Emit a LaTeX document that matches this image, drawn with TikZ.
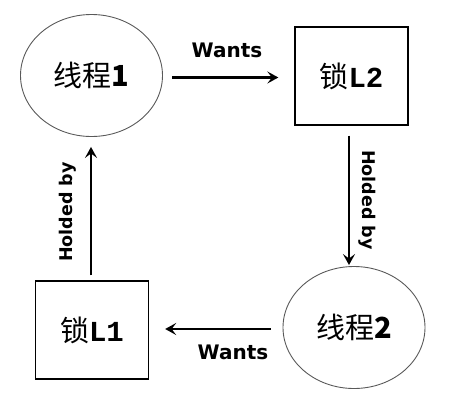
\documentclass[tikz,border=0pt]{standalone}
\usepackage{fontspec}
\newfontfamily\cjk{Noto Sans CJK SC}
\newfontfamily\lbl{DejaVu Sans}
\newfontfamily\monob{Liberation Mono}
\usetikzlibrary{arrows.meta,shapes.geometric,calc}
\begin{document}
\begin{tikzpicture}[x=1pt,y=-1pt,
  thread/.style={ellipse,draw=black!65,line width=0.9pt,minimum width=142pt,minimum height=122pt,inner sep=0pt,
    font=\cjk\fontsize{29}{29}\selectfont},
  lockbox/.style={rectangle,draw=black,line width=1.3pt,minimum width=113pt,minimum height=98pt,inner sep=0pt,
    font=\cjk\fontsize{29}{29}\selectfont},
  arr/.style={line width=2.5pt,-{Stealth[length=11pt,width=12pt,inset=4.5pt]}},
  lab/.style={font=\lbl\bfseries\fontsize{20}{20}\selectfont,inner sep=0pt,anchor=base},
  vlab/.style={font=\lbl\bfseries\fontsize{17.5}{17.5}\selectfont,inner sep=0pt,anchor=base}]
\useasboundingbox (0,0) rectangle (461,418);
\node[thread]  (e1) at (91.5,75.5) {线程\textbf{1}};
\node[lockbox] (l2) at (351.5,76) {锁{\monob\bfseries L2}};
\node[lockbox] (l1) at (92,330) {锁{\monob\bfseries L1}};
\node[thread]  (e2) at (354,327.5) {线程\textbf{2}};
\draw[arr] ($(e1.east)+(9.5,2)$) -- ($(l2.west)+(-16,1.5)$);
\draw[arr] ($(l2.south)+(-2.5,10)$) -- ($(l2.south |- e2.north)+(-2.5,-1)$);
\draw[arr] ($(e2.west)+(-12,1.5)$) -- ($(l1.east)+(16,-1)$);
\draw[arr] ($(l1.north)+(-1,-5)$) -- ($(e1.south)+(-0.5,10)$);
\node[lab] (w1) at (227,57) {Wants};
\node[lab] (w2) at (233,359) {Wants};
\node[vlab,rotate=90] (h1) at (72,212) {Holded by};
\node[vlab,rotate=-90] (h2) at (362,200) {Holded by};
\end{tikzpicture}
\end{document}
